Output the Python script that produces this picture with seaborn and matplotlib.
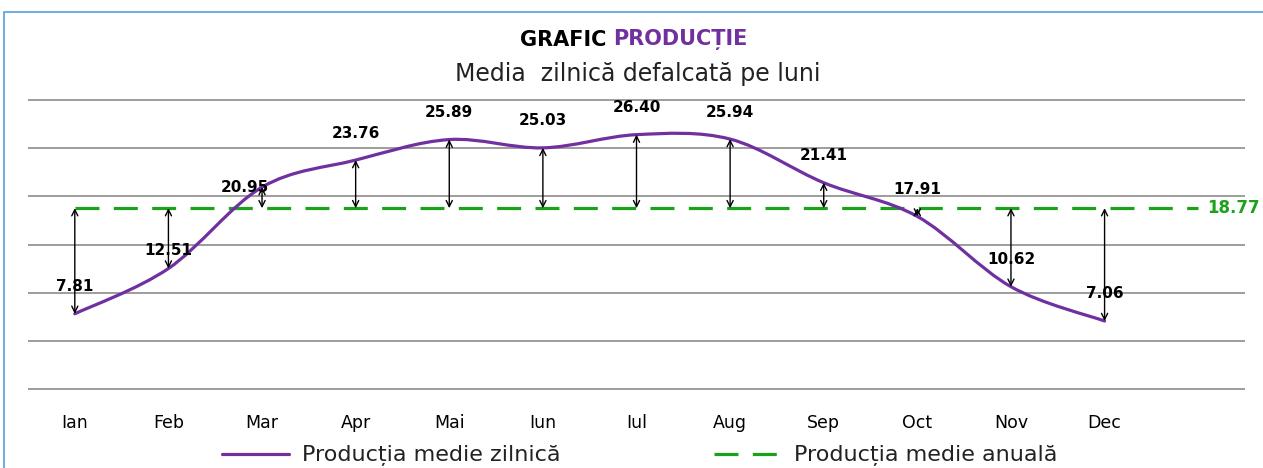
import numpy as np
import pandas as pd
import matplotlib.pyplot as plt
import seaborn as sns
from matplotlib.path import Path
from matplotlib.patches import PathPatch, Rectangle
from matplotlib.lines import Line2D

# Data
months = ['Ian', 'Feb', 'Mar', 'Apr', 'Mai', 'Iun', 'Iul', 'Aug', 'Sep', 'Oct', 'Nov', 'Dec']
daily_prod = [7.81, 12.51, 20.95, 23.76, 25.89, 25.03, 26.40, 25.94, 21.41, 17.91, 10.62, 7.06]
annual_avg = 18.77

PURPLE = '#7030A0'
GREEN = '#1AA31A'
GRID = '#8c8c8c'

sns.set_theme(style='white')
plt.rcParams['font.family'] = ['DejaVu Sans']

W, H = 1263, 468
fig = plt.figure(figsize=(W / 100, H / 100), dpi=100)
ax = fig.add_axes([28 / W, 78 / H, 1217 / W, 291 / H])


def smooth_path(xs, ys, t=1 / 6):
    # Excel-like smoothed line as cubic bezier segments
    n = len(xs)
    verts = [(xs[0], ys[0])]
    codes = [Path.MOVETO]
    for i in range(n - 1):
        a = max(i - 1, 0)
        b = min(i + 2, n - 1)
        c1 = (xs[i] + (xs[i + 1] - xs[a]) * t, ys[i] + (ys[i + 1] - ys[a]) * t)
        c2 = (xs[i + 1] - (xs[b] - xs[i]) * t, ys[i + 1] - (ys[b] - ys[i]) * t)
        verts += [c1, c2, (xs[i + 1], ys[i + 1])]
        codes += [Path.CURVE4] * 3
    return Path(verts, codes)


x = np.arange(len(months))

# average line runs one extra slot to the right, where its label sits
avg_df = pd.DataFrame({'x': np.arange(len(months) + 1),
                       'y': [annual_avg] * (len(months) + 1)})
sns.lineplot(data=avg_df, x='x', y='y', ax=ax, color=GREEN, lw=2.3,
             linestyle=(0, (7.5, 4.5)), zorder=3)

# monthly daily production, smoothed
ax.add_patch(PathPatch(smooth_path(x, daily_prod), facecolor='none',
                       edgecolor=PURPLE, lw=2.3, zorder=4, capstyle='round'))

# arrows between each month and the annual average
for i, v in enumerate(daily_prod):
    ax.annotate('', xy=(i, v), xytext=(i, annual_avg),
                arrowprops=dict(arrowstyle='<->', color='black', lw=1.0,
                                shrinkA=0, shrinkB=0, mutation_scale=11),
                zorder=5)

# value labels
offsets = {1: (0, 13), 2: (-12, 0)}
for i, v in enumerate(daily_prod):
    ax.annotate(f'{v:.2f}', (i, v), xytext=offsets.get(i, (0, 19.5)),
                textcoords='offset points', ha='center', va='center',
                fontsize=11, fontweight='bold', color='black', zorder=6)

ax.annotate(f'{annual_avg:.2f}', (len(months), annual_avg), xytext=(6.5, 0),
            textcoords='offset points', ha='left', va='center',
            fontsize=12, fontweight='bold', color=GREEN)

ax.set_xlim(-0.5, len(months) + 0.5)
ax.set_ylim(-0.1, 30.1)
ax.set_yticks(range(0, 31, 5))
ax.set_yticklabels([])
ax.yaxis.grid(True, color=GRID, lw=1.2)
ax.xaxis.grid(False)
ax.set_xticks(x)
ax.set_xticklabels(months, fontsize=12.5)
ax.tick_params(axis='x', length=0, pad=17, colors='black')
ax.tick_params(axis='y', length=0)
ax.set_xlabel('')
ax.set_ylabel('')
for s in ax.spines.values():
    s.set_visible(False)

# titles
fig.text(606 / W, 1 - 40 / H, 'GRAFIC', ha='right', va='center',
         fontsize=15, fontweight='bold', color='black')
fig.text(613 / W, 1 - 40 / H, 'PRODUCȚIE', ha='left', va='center',
         fontsize=15, fontweight='bold', color=PURPLE)
fig.text(638 / W, 1 - 74 / H, 'Media  zilnică defalcată pe luni', ha='center',
         va='center', fontsize=17, color='#222222')

# legend
handles = [Line2D([], [], color=PURPLE, lw=2.3),
           Line2D([], [], color=GREEN, lw=2.3, linestyle=(0, (7.5, 4.5)))]
labels = ['Producția medie zilnică', 'Producția medie anuală']
fig.legend(handles, labels, loc='center', bbox_to_anchor=(640 / W, 12 / H),
           ncol=2, frameon=False, fontsize=16, handlelength=3.0,
           handletextpad=0.6, columnspacing=6.9, labelcolor='#222222')

# light blue chart border (cut by the image edges on right and bottom)
fig.patches.append(Rectangle((4 / W, -0.5), 2, 1.5 - 12 / H,
                             transform=fig.transFigure, fill=False,
                             edgecolor='#5DA9DD', lw=1.3))

fig.savefig('out.png', dpi=100, facecolor='white')
